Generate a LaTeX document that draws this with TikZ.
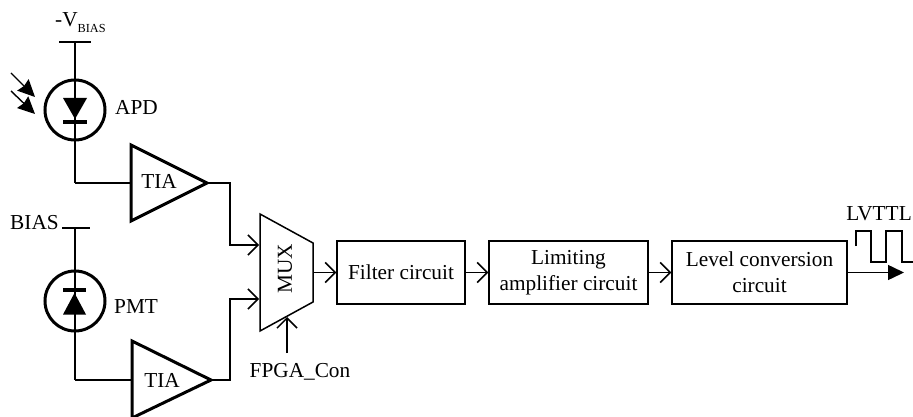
\documentclass[tikz,border=0pt]{standalone}
\usepackage{fontspec}
\setmainfont{Liberation Serif}
\usetikzlibrary{arrows.meta}
\tikzset{
  lbl/.style={inner sep=0pt,font=\fontsize{21.3}{25}\selectfont},
  wire/.style={line width=1.5pt,line join=miter},
  openarr/.style={wire,-{Straight Barb[length=10pt,width=20pt,line width=1.5pt]}},
  fillarr/.style={line width=1.4pt,-{Stealth[length=17pt,width=16pt,inset=1.5pt]}},
  blockbox/.style={draw,line width=1.5pt,minimum height=63pt,align=center,inner sep=0pt,font=\fontsize{21.3}{26}\selectfont},
  amp/.style={line width=3pt,line join=miter},
  ring/.style={circle,draw,line width=3pt,minimum size=60pt,inner sep=0pt},
}
\begin{document}
\begin{tikzpicture}[x=1pt,y=-1pt]
\useasboundingbox (0,0) rectangle (913,417);
% APD
\node[ring] (apd) at (75,110) {};
\coordinate (vtop) at (75,42);
\coordinate (vtopl) at (59,42);
\coordinate (vtopr) at (91,42);
\coordinate (apdjoin) at (75,183);
\draw[wire] (vtopl) -- (vtopr);
\draw[wire] (vtop) -- (apdjoin);
\draw[line width=2.6pt] (75,73) -- (75,152);
\fill (63,98) -- (87,98) -- (75,119) -- cycle;
\draw[line width=4pt] (63,122.5) -- (87,122.5);
\node[lbl,anchor=base west] (apdl) at (115,115) {APD};
\node[lbl,anchor=base west] (vb) at (55,27) {-V\raisebox{-6pt}{\fontsize{12.3}{12}\selectfont BIAS}};
\coordinate (l1a) at (11,73); \coordinate (l1b) at (35,97);
\coordinate (l2a) at (11,91); \coordinate (l2b) at (35,114);
\draw[fillarr] (l1a) -- (l1b);
\draw[fillarr] (l2a) -- (l2b);
% PMT
\node[ring] (pmt) at (75,301) {};
\coordinate (bt) at (75,228);
\coordinate (btl) at (62,228);
\coordinate (btr) at (90,228);
\coordinate (pmtjoin) at (75,380);
\draw[wire] (btl) -- (btr);
\draw[wire] (bt) -- (pmtjoin);
\draw[line width=2.6pt] (75,262) -- (75,339);
\fill (63,314.5) -- (86,314.5) -- (74.5,293) -- cycle;
\draw[line width=4pt] (63,290) -- (86,290);
\node[lbl,anchor=base west] (pmtl) at (114,313) {PMT};
\node[lbl,anchor=base west] (bl) at (10,229) {BIAS};
% TIA
\coordinate (t1in) at (131,183); \coordinate (t1out) at (207,183);
\coordinate (t2in) at (132,380); \coordinate (t2out) at (211,380);
\draw[amp] (131,145) -- (t1out) -- (131,221) -- cycle;
\draw[amp] (132,341) -- (t2out) -- (132,418) -- cycle;
\node[lbl,anchor=base] (tia1) at (159,188) {TIA};
\node[lbl,anchor=base] (tia2) at (162,387) {TIA};
\draw[wire] (apdjoin) -- (t1in);
\draw[wire] (pmtjoin) -- (t2in);
% MUX
\coordinate (m1) at (260,214); \coordinate (m2) at (313,243);
\coordinate (m3) at (313,302); \coordinate (m4) at (260,331);
\draw[line width=1.5pt,line join=miter] (m1) -- (m2) -- (m3) -- (m4) -- cycle;
\node[lbl,rotate=90] (mux) at (285,269) {MUX};
\coordinate (i1) at (259,245); \coordinate (i2) at (259,299);
\draw[openarr] (t1out) -- (230,183) -- (230,245) -- (i1);
\draw[openarr] (t2out) -- (230,380) -- (230,299) -- (i2);
\coordinate (fa) at (287,353); \coordinate (fb) at (287,317);
\draw[openarr] (fa) -- (fb);
\node[lbl,anchor=base] (fc) at (300,377) {FPGA\_Con};
% Blocks
\node[blockbox,minimum width=128pt] (f) at (401,272.5) {Filter circuit};
\node[blockbox,minimum width=159pt] (l) at (568.5,272.5) {Limiting\\amplifier circuit};
\node[blockbox,minimum width=175pt] (c) at (759.5,272.5) {Level conversion\\circuit};
\coordinate (mo) at (313,272.5);
\draw[openarr] (mo) -- (f.west);
\draw[openarr] (f) -- (l);
\draw[openarr] (l) -- (c);
\coordinate (oend) at (904,272.5);
\draw[line width=1.5pt,-{Triangle[length=16pt,width=15pt]}] (c) -- (oend);
\draw[line width=2.4pt,line join=miter] (855.7,246) -- (855.7,231) -- (870.7,231) -- (870.7,262) -- (886,262) -- (886,231) -- (901.7,231) -- (901.7,262) -- (913,262);
\node[lbl,anchor=base] (lv) at (879,220) {LVTTL};
\end{tikzpicture}
\end{document}
